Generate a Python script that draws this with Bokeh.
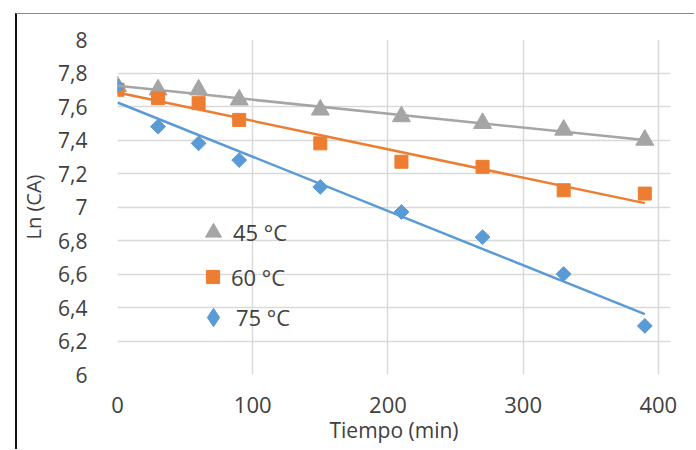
import numpy as np
from bokeh.plotting import figure
from bokeh.models import (Range1d, FixedTicker, CustomJSTickFormatter, Legend,
                          LegendItem)
from bokeh.embed import file_html
from bokeh.resources import INLINE

# ---- data ----
tiempo = [0, 30, 60, 90, 150, 210, 270, 330, 390]
ln_45 = [7.72, 7.70, 7.70, 7.64, 7.58, 7.54, 7.50, 7.46, 7.40]
ln_60 = [7.70, 7.65, 7.62, 7.52, 7.38, 7.27, 7.24, 7.10, 7.08]
ln_75 = [7.72, 7.48, 7.38, 7.28, 7.12, 6.97, 6.82, 6.60, 6.29]
labels = ["45 °C", "60 °C", "75 °C"]
x_ticks = [0, 100, 200, 300, 400]
y_ticks = [6.0, 6.2, 6.4, 6.6, 6.8, 7.0, 7.2, 7.4, 7.6, 7.8, 8.0]

GRAY = "#a5a5a5"
ORANGE = "#ed7d31"
BLUE = "#5b9bd5"
TXT = "#404040"
FONT = "Open Sans"

# canvas starts at (17, 14) because of the CSS margin + borders below
p = figure(width=679, height=436, output_backend="svg", toolbar_location=None,
           x_range=Range1d(0, 409), y_range=Range1d(6, 8),
           min_border_left=97, min_border_right=26, min_border_top=25,
           min_border_bottom=76)
p.styles = {"margin-left": "15px", "margin-top": "13px",
            "border-left": "2px solid #111111",
            "border-top": "1px solid #8a8a8a"}
p.outline_line_color = None
p.background_fill_color = "white"
p.border_fill_color = "white"

for ax in (p.xaxis[0], p.yaxis[0]):
    ax.axis_line_color = None
    ax.major_tick_line_color = None
    ax.minor_tick_line_color = None
    ax.major_label_text_font = FONT
    ax.major_label_text_color = TXT
    ax.axis_label_text_font = FONT
    ax.axis_label_text_font_style = "normal"
    ax.axis_label_text_color = TXT

p.xaxis.ticker = FixedTicker(ticks=x_ticks)
p.yaxis.ticker = FixedTicker(ticks=y_ticks)
p.yaxis.formatter = CustomJSTickFormatter(code="""
    const r = Math.round(tick);
    if (Math.abs(tick - r) < 1e-9) return String(r);
    return tick.toFixed(1).replace('.', ',');
""")
p.xaxis.major_label_text_font_size = "22px"
p.yaxis.major_label_text_font_size = "21px"
p.xaxis.major_label_standoff = 16
p.yaxis.major_label_standoff = 24
p.xaxis.axis_label = "Tiempo (min)"
p.yaxis.axis_label = "Ln (CA)"
p.xaxis.axis_label_text_font_size = "21px"
p.yaxis.axis_label_text_font_size = "20px"
p.xaxis.axis_label_standoff = 0
p.yaxis.axis_label_standoff = 8

p.xgrid.ticker = FixedTicker(ticks=x_ticks)
p.ygrid.ticker = FixedTicker(ticks=y_ticks)
p.xgrid.grid_line_color = "#d9d9d9"
p.ygrid.grid_line_color = "#d9d9d9"
p.xgrid.grid_line_width = 1.5
p.ygrid.grid_line_width = 1.5

r45 = p.scatter(tiempo, ln_45, marker="triangle", size=18, color=GRAY)
r60 = p.scatter(tiempo, ln_60, marker="square", size=13, color=ORANGE)
r75 = p.scatter(tiempo, ln_75, marker="square", angle=np.pi / 4, size=10.5, color=BLUE)
# legend key for the diamond series: zero size in the plot, drawn only by the legend
r75_key = p.scatter(tiempo, ln_75, marker="diamond", size=0, color=BLUE)

# linear trendlines (least squares fit of each series)
t_ends = [tiempo[0], tiempo[-1]]
for ys, col in ((ln_45, GRAY), (ln_60, ORANGE), (ln_75, BLUE)):
    m, b = np.polyfit(tiempo, ys, 1)
    p.line(t_ends, [m * t + b for t in t_ends], line_color=col, line_width=2.5)

# three single-item legends (glyph box size sets the legend marker size)
specs = [(labels[0], r45, 40, (76, 122), 0),
         (labels[1], r60, 33, (79, 81), 2),
         (labels[2], r75_key, 46, (73, 34), 0)]
for lab, rend, g, loc, st in specs:
    lg = Legend(items=[LegendItem(label=lab, renderers=[rend])], location=loc,
                glyph_width=g, glyph_height=g, label_standoff=st,
                padding=0, margin=0, border_line_color=None,
                background_fill_alpha=0, label_text_font=FONT,
                label_text_font_size="22px", label_text_color=TXT)
    p.add_layout(lg, "center")

open("out.html", "w").write(file_html(p, INLINE))
